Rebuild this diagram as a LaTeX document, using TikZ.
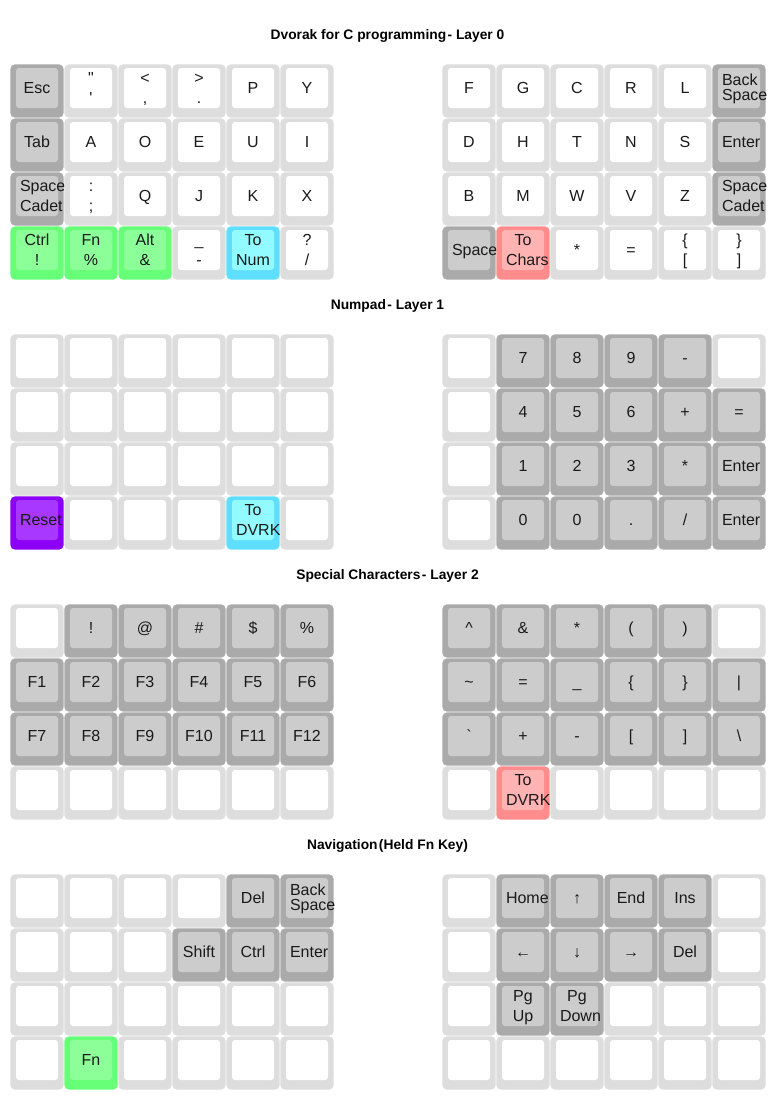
\documentclass[tikz,border=0pt]{standalone}
\usepackage{fontspec}
\setmainfont{Liberation Sans}[Ligatures=TeXOff]
\uchyph=0
\hyphenpenalty=10000
\exhyphenpenalty=10000
\hbadness=10000
\hfuzz=200pt
\definecolor{cWo}{HTML}{DDDDDD}
\definecolor{cWf}{HTML}{FFFFFF}
\definecolor{cGo}{HTML}{AAAAAA}
\definecolor{cGf}{HTML}{CCCCCC}
\definecolor{cNo}{HTML}{66FF77}
\definecolor{cNf}{HTML}{8CFF99}
\definecolor{cCo}{HTML}{5EDFFF}
\definecolor{cCf}{HTML}{92FBFF}
\definecolor{cRo}{HTML}{FF8C8C}
\definecolor{cRf}{HTML}{FFB3B3}
\definecolor{cPo}{HTML}{8C00F5}
\definecolor{cPf}{HTML}{A838FF}
\definecolor{ktext}{HTML}{1A1A1A}
\newcommand\ls{\rule[-4.5pt]{0pt}{20pt}}
\newcommand\ts{\rule[-2pt]{0pt}{15pt}}
\newcommand\one[1]{\ls #1}
\newcommand\two[2]{\ls #1\\\ls #2}
\newcommand\twot[2]{\ts #1\\\ts #2}
\newcommand\K[5]{%
  \pgfmathsetmacro\kx{10+54*#3+108*(#3>5)}%
  \pgfmathsetmacro\ky{64+270*#1+54*#2}%
  \fill[#4o] (\kx+0.4,\ky+0.4) rectangle ++(53.2,53.2);
  \node[face,#4f] (k#1-#2-#3) at (\kx+27,\ky+24) {#5};}
\newcommand\KR[3]{\foreach[count=\ci from 0] \st/\lb in {#3}{\K{#1}{#2}{\ci}{\st}{\lb}}}
\tikzset{
  face/.style={rounded corners=3pt, minimum height=40pt, minimum width=42pt,
    text width=34pt, inner xsep=4pt, inner ysep=0pt, align=center,
    font=\fontsize{16}{20}\selectfont, text=ktext},
  ttl/.style={anchor=base, inner sep=0pt, text=black,
    font=\fontsize{13.8}{16}\selectfont\bfseries},
  kwhiteo/.style={fill=cWo, rounded corners=4.5pt}, kwhitef/.style={fill=cWf},
  kgrayo/.style={fill=cGo, rounded corners=4.5pt}, kgrayf/.style={fill=cGf},
  kgrayTo/.style={kgrayo}, kgrayTf/.style={kgrayf, font=\fontsize{16}{15}\selectfont},
  kgreeno/.style={fill=cNo, rounded corners=4.5pt}, kgreenf/.style={fill=cNf},
  kcyano/.style={fill=cCo, rounded corners=4.5pt}, kcyanf/.style={fill=cCf},
  kredo/.style={fill=cRo, rounded corners=4.5pt}, kredf/.style={fill=cRf},
  kpurpleo/.style={fill=cPo, rounded corners=4.5pt}, kpurplef/.style={fill=cPf},
}
\begin{document}
\begin{tikzpicture}[x=1pt,y=-1pt]
\fill[white] (0,0) rectangle (775,1100);
\useasboundingbox (0,0) rectangle (775,1100);
% titles
\node[ttl] (t0) at (387.5,39) {Dvorak for C programming\hspace{0.1em}- Layer 0};
\node[ttl] (t1) at (387.5,309) {Numpad\hspace{0.1em}- Layer 1};
\node[ttl] (t2) at (387.5,579) {Special Characters\hspace{0.1em}- Layer 2};
\node[ttl] (t3) at (387.5,849) {Navigation\hspace{0.1em}(Held Fn Key)};
% layer 0
\KR{0}{0}{kgray/\one{Esc},kwhite/\two{"}{'},kwhite/\two{<}{,},kwhite/\two{>}{.},kwhite/\one{P},kwhite/\one{Y},kwhite/\one{F},kwhite/\one{G},kwhite/\one{C},kwhite/\one{R},kwhite/\one{L},kgrayT/\twot{Back}{Space}}
\KR{0}{1}{kgray/\one{Tab},kwhite/\one{A},kwhite/\one{O},kwhite/\one{E},kwhite/\one{U},kwhite/\one{I},kwhite/\one{D},kwhite/\one{H},kwhite/\one{T},kwhite/\one{N},kwhite/\one{S},kgray/\one{Enter}}
\KR{0}{2}{kgray/\two{Space}{Cadet},kwhite/\two{:}{;},kwhite/\one{Q},kwhite/\one{J},kwhite/\one{K},kwhite/\one{X},kwhite/\one{B},kwhite/\one{M},kwhite/\one{W},kwhite/\one{V},kwhite/\one{Z},kgray/\two{Space}{Cadet}}
\KR{0}{3}{kgreen/\two{Ctrl}{!},kgreen/\two{Fn}{\%},kgreen/\two{Alt}{\&},kwhite/\two{\_}{-},kcyan/\two{To}{Num},kwhite/\two{?}{/},kgray/\one{Space},kred/\two{To}{Chars},kwhite/\one{*},kwhite/\one{=},kwhite/\two{\{}{[},kwhite/\two{\}}{]}}
% layer 1
\KR{1}{0}{kwhite/,kwhite/,kwhite/,kwhite/,kwhite/,kwhite/,kwhite/,kgray/\one{7},kgray/\one{8},kgray/\one{9},kgray/\one{-},kwhite/}
\KR{1}{1}{kwhite/,kwhite/,kwhite/,kwhite/,kwhite/,kwhite/,kwhite/,kgray/\one{4},kgray/\one{5},kgray/\one{6},kgray/\one{+},kgray/\one{=}}
\KR{1}{2}{kwhite/,kwhite/,kwhite/,kwhite/,kwhite/,kwhite/,kwhite/,kgray/\one{1},kgray/\one{2},kgray/\one{3},kgray/\one{*},kgray/\one{Enter}}
\KR{1}{3}{kpurple/\one{Reset},kwhite/,kwhite/,kwhite/,kcyan/\two{To}{DVRK},kwhite/,kwhite/,kgray/\one{0},kgray/\one{0},kgray/\one{.},kgray/\one{/},kgray/\one{Enter}}
% layer 2
\KR{2}{0}{kwhite/,kgray/\one{!},kgray/\one{@},kgray/\one{\#},kgray/\one{\$},kgray/\one{\%},kgray/\one{\textasciicircum},kgray/\one{\&},kgray/\one{*},kgray/\one{(},kgray/\one{)},kwhite/}
\KR{2}{1}{kgray/\one{F1},kgray/\one{F2},kgray/\one{F3},kgray/\one{F4},kgray/\one{F5},kgray/\one{F6},kgray/\one{\textasciitilde},kgray/\one{=},kgray/\one{\_},kgray/\one{\{},kgray/\one{\}},kgray/\one{|}}
\KR{2}{2}{kgray/\one{F7},kgray/\one{F8},kgray/\one{F9},kgray/\one{F10},kgray/\one{F11},kgray/\one{F12},kgray/\one{`},kgray/\one{+},kgray/\one{-},kgray/\one{[},kgray/\one{]},kgray/\one{\textbackslash}}
\KR{2}{3}{kwhite/,kwhite/,kwhite/,kwhite/,kwhite/,kwhite/,kwhite/,kred/\two{To}{DVRK},kwhite/,kwhite/,kwhite/,kwhite/}
% layer 3
\KR{3}{0}{kwhite/,kwhite/,kwhite/,kwhite/,kgray/\one{Del},kgrayT/\twot{Back}{Space},kwhite/,kgray/\one{Home},kgray/\one{↑},kgray/\one{End},kgray/\one{Ins},kwhite/}
\KR{3}{1}{kwhite/,kwhite/,kwhite/,kgray/\one{Shift},kgray/\one{Ctrl},kgray/\one{Enter},kwhite/,kgray/\one{←},kgray/\one{↓},kgray/\one{→},kgray/\one{Del},kwhite/}
\KR{3}{2}{kwhite/,kwhite/,kwhite/,kwhite/,kwhite/,kwhite/,kwhite/,kgray/\two{Pg}{Up},kgray/\two{Pg}{Down},kwhite/,kwhite/,kwhite/}
\KR{3}{3}{kwhite/,kgreen/\one{Fn},kwhite/,kwhite/,kwhite/,kwhite/,kwhite/,kwhite/,kwhite/,kwhite/,kwhite/,kwhite/}
\end{tikzpicture}
\end{document}
